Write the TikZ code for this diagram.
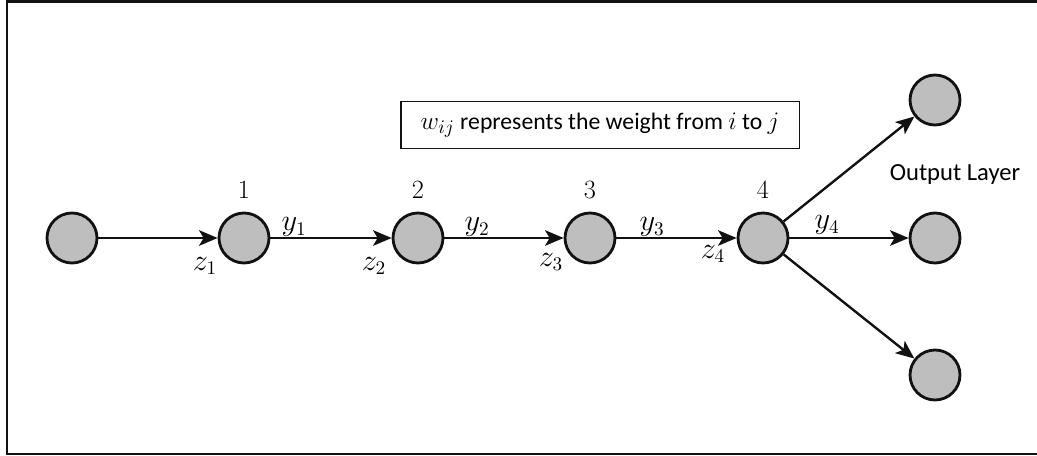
\documentclass[tikz,border=0pt]{standalone}
\usepackage{fontspec}
\newfontfamily\carlito{Carlito}
\usetikzlibrary{arrows.meta,positioning}
\definecolor{cInk}{HTML}{111111}
\definecolor{cNode}{HTML}{BEBEBE}
\newcommand{\keymath}[1]{{\fontsize{15.5}{17}\selectfont$#1$}}
\tikzset{
  >={Stealth[length=3.7mm,width=3.1mm,inset=0.9mm]},
  neu/.style={circle,draw=cInk,fill=cNode,line width=1.6pt,minimum size=1cm,inner sep=0pt},
  ar/.style ={->,line width=1.35pt,cInk},
  num/.style={font=\fontsize{15}{17}\selectfont,inner sep=0pt},
  lbl/.style={font=\fontsize{16}{18}\selectfont,inner sep=0pt},
}
\begin{document}
\begin{tikzpicture}[x=0.02cm,y=-0.02cm]
\useasboundingbox (0,0) rectangle (1037,456);
\draw[line width=1.6pt,cInk] (1037,1.5) -- (7,1.5) -- (7,454) -- (1037,454);
% chain of neurons
\node[neu] (in) at (72,238)  {};
\node[neu] (n1) at (244,238) {};
\node[neu] (n2) at (418,238) {};
\node[neu] (n3) at (590,238) {};
\node[neu] (n4) at (763,238) {};
\node[neu] (o1) at (935,100) {};
\node[neu] (o2) at (935,238) {};
\node[neu] (o3) at (935,375) {};
% layer numbers
\node[num] at (244,190) {1};
\node[num] at (418,190) {2};
\node[num] at (590,190) {3};
\node[num] at (763,190) {4};
\node[font=\carlito\fontsize{14}{16}\selectfont] at (955,175) {Output Layer};
\node[draw=cInk,line width=1.1pt,minimum width=7.98cm,minimum height=0.94cm,
      font=\carlito\fontsize{13.5}{16}\selectfont] (key) at (600,125)
      {\keymath{w_{ij}} represents the weight from \keymath{i} to \keymath{j}};
% connectors
\draw[ar] (in)--(n1);
\draw[ar] (n1)--(n2);
\draw[ar] (n2)--(n3);
\draw[ar] (n3)--(n4);
\draw[ar] (n4)--(o1);
\draw[ar] (n4)--(o2);
\draw[ar] (n4)--(o3);
% signals
\node[lbl] at (294,227) {$y_1$};
\node[lbl] at (477,227) {$y_2$};
\node[lbl] at (652,227) {$y_3$};
\node[lbl] at (827,225) {$y_4$};
\node[lbl] at (205,266) {$z_1$};
\node[lbl] at (374,266) {$z_2$};
\node[lbl] at (551,262) {$z_3$};
\node[lbl] at (713,254) {$z_4$};
\end{tikzpicture}
\end{document}
